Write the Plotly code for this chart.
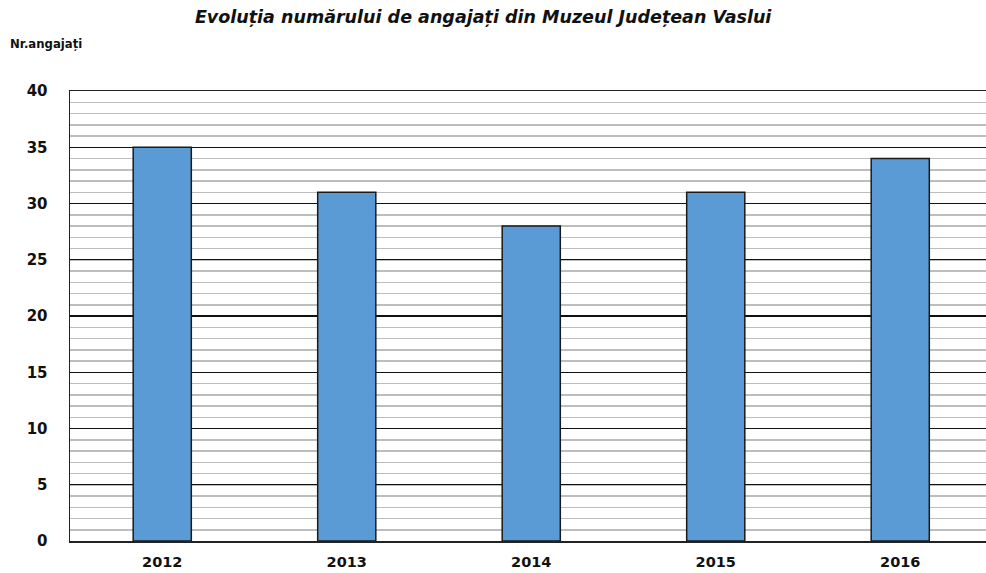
import plotly.graph_objects as go

years = ["2012", "2013", "2014", "2015", "2016"]
employees = [35, 31, 28, 31, 34]
y_ticks = [0, 5, 10, 15, 20, 25, 30, 35, 40]

xpos = list(range(len(years)))

W, H = 986, 573
L, T, B = 70, 91, 32
plot_w = W - L
cat_px = 184.5

fig = go.Figure()
fig.add_trace(go.Bar(
    x=xpos, y=employees, width=0.315,
    marker=dict(color="#5B9BD5", line=dict(color="#1a1a1a", width=1.5)),
    hoverinfo="skip",
))

fig.update_layout(
    width=W, height=H,
    margin=dict(l=L, r=0, t=T, b=B),
    paper_bgcolor="white", plot_bgcolor="white",
    showlegend=False,
    font=dict(family="DejaVu Sans", color="#111"),
    title=dict(text="<b><i>Evoluția numărului de angajați din Muzeul Județean Vaslui</i></b>",
               x=0.49, xanchor="center", y=1 - 17 / H, yanchor="middle",
               font=dict(size=17.5, family="DejaVu Sans", color="#111")),
    annotations=[dict(text="<b>Nr.angajați</b>", xref="paper", yref="paper",
                      x=-(L - 8) / plot_w, y=1 + (T - 44) / (H - T - B), xanchor="left", yanchor="middle",
                      showarrow=False, font=dict(size=11.7, family="DejaVu Sans", color="#111"))],
)
fig.update_xaxes(
    range=[-0.5, -0.5 + plot_w / cat_px],
    tickvals=xpos, ticktext=[f"<b>{y}</b>" for y in years],
    showgrid=False, showline=True, mirror=True, linecolor="#222", linewidth=1.5,
    ticks="", ticklabelstandoff=7, tickfont=dict(size=14.5, color="#111"),
    automargin=False, fixedrange=True,
)
fig.update_yaxes(
    range=[0, 40], tickvals=y_ticks, ticktext=[f"<b>{v}</b>" for v in y_ticks],
    showgrid=True, gridcolor="#111", gridwidth=1.3,
    minor=dict(dtick=1, showgrid=True, gridcolor="#bdbdbd", gridwidth=1.5),
    showline=True, linecolor="#222", linewidth=1.5, zeroline=False,
    ticks="", ticklabelstandoff=18, tickfont=dict(size=15, color="#111"),
    automargin=False, fixedrange=True,
)
fig.write_html(
    "out.html",
    config={"displayModeBar": False, "staticPlot": True},
    post_script="document.body.style.margin='0';document.body.style.overflow='hidden';",
)
